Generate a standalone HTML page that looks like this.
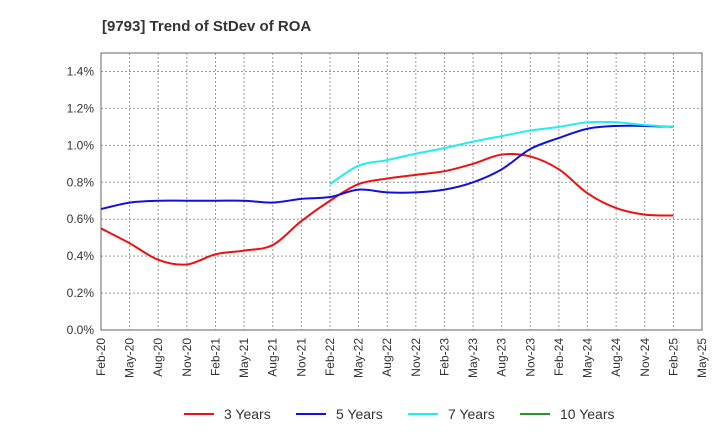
<!DOCTYPE html>
<html><head><meta charset="utf-8"><style>
body{margin:0;background:#fff;font-family:"Liberation Sans",sans-serif;}
</style></head><body>
<svg width="720" height="440" xmlns="http://www.w3.org/2000/svg" font-family="Liberation Sans, sans-serif">
<text x="102" y="31" font-size="15" font-weight="bold" fill="#333">[9793]  Trend of StDev of ROA</text>
<g id="grid"></g>
<g id="axes"></g>
<g id="series"></g>
<g id="legend"></g>
</svg>
<script>
const xLabels=["Feb-20","May-20","Aug-20","Nov-20","Feb-21","May-21","Aug-21","Nov-21","Feb-22","May-22","Aug-22","Nov-22","Feb-23","May-23","Aug-23","Nov-23","Feb-24","May-24","Aug-24","Nov-24","Feb-25","May-25"];
const yTicks=[0,0.2,0.4,0.6,0.8,1.0,1.2,1.4];
const s3=[0.55,0.47,0.38,0.355,0.41,0.43,0.46,0.59,0.70,0.79,0.82,0.84,0.86,0.90,0.95,0.94,0.87,0.74,0.66,0.625,0.62];
const s5=[0.655,0.69,0.70,0.70,0.70,0.70,0.69,0.71,0.72,0.76,0.745,0.745,0.76,0.80,0.87,0.98,1.04,1.09,1.105,1.105,1.10];
const s7=[null,null,null,null,null,null,null,null,0.79,0.89,0.92,0.955,0.985,1.02,1.05,1.08,1.10,1.125,1.125,1.11,1.10];
const s10=[];
const NS="http://www.w3.org/2000/svg";
const L=101,R=702,T=53,B=330,yMax=1.5;
const x=i=>L+i*(R-L)/(xLabels.length-1);
const y=v=>B-v/yMax*(B-T);
function mk(tag,attrs,parent){const e=document.createElementNS(NS,tag);for(const k in attrs)e.setAttribute(k,attrs[k]);parent.appendChild(e);return e;}
const grid=document.getElementById('grid'),axes=document.getElementById('axes'),ser=document.getElementById('series'),leg=document.getElementById('legend');
yTicks.forEach(v=>{
 const l=mk('line',{x1:L,x2:R,y1:y(v),y2:y(v),stroke:'#999','stroke-dasharray':'2,2','stroke-width':1},grid);
 
 
 const t=mk('text',{x:L-7,y:y(v)+4,'text-anchor':'end','font-size':12,fill:'#333'},axes);
 t.textContent=v.toFixed(1)+'%';
 
 
});
xLabels.forEach((lab,i)=>{
 if(i>0&&i<xLabels.length-1){const g=mk('line',{x1:x(i),x2:x(i),y1:T,y2:B,stroke:'#999','stroke-dasharray':'2,2'},grid);
 
 }
 const t=mk('text',{transform:`translate(${x(i)+4},${B+8}) rotate(-90)`,'text-anchor':'end','font-size':12,fill:'#333'},axes);
 t.textContent=lab;
 
 
});
const fr=mk('rect',{x:L,y:T,width:R-L,height:B-T,fill:'none',stroke:'#666'},axes);


function path(data){
 const pts=[];data.forEach((v,i)=>{if(v!=null)pts.push([x(i),y(v)]);});
 if(pts.length<2)return '';
 let d=`M${pts[0][0]},${pts[0][1]}`;
 for(let i=0;i<pts.length-1;i++){
  const p0=pts[Math.max(0,i-1)],p1=pts[i],p2=pts[i+1],p3=pts[Math.min(pts.length-1,i+2)];
  const c1=[p1[0]+(p2[0]-p0[0])/6,p1[1]+(p2[1]-p0[1])/6],c2=[p2[0]-(p3[0]-p1[0])/6,p2[1]-(p3[1]-p1[1])/6];
  d+=`C${c1[0]},${c1[1]} ${c2[0]},${c2[1]} ${p2[0]},${p2[1]}`;
 }
 return d;
}
const series=[[s3,'#ee1111','3 Years','line-3-years'],[s5,'#1111dd','5 Years','line-5-years'],[s7,'#22eeee','7 Years','line-7-years'],[s10,'#229922','10 Years','line-10-years']];
series.forEach(([d,c,n,nm],k)=>{
 const p=path(d);
 if(p){const e=mk('path',{d:p,fill:'none',stroke:c,'stroke-width':2},ser);
 
 }
 const lx=[184,296,408,520][k];
 const ll=mk('line',{x1:lx,x2:lx+30,y1:414,y2:414,stroke:c,'stroke-width':2},leg);
 
 
 const t=mk('text',{x:lx+40,y:419,'font-size':14,fill:'#333'},leg);
 t.textContent=n;
 
 
});
</script>
</body></html>
